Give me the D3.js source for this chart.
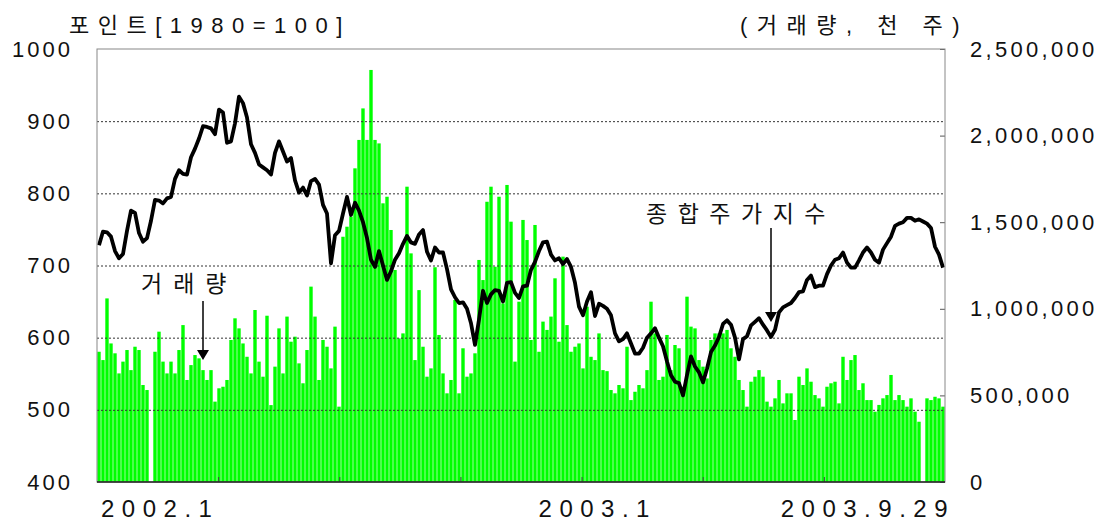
<!DOCTYPE html>
<html>
<head>
<meta charset="utf-8">
<script src="https://cdn.jsdelivr.net/npm/d3@7"></script>
<style>
body { margin: 0; background: #fff; }
text { font-family: "Liberation Sans", "Noto Sans CJK KR", sans-serif; fill: #111; }
</style>
</head>
<body>
<div id="chart"></div>
<script>
// 종합주가지수 (포인트, 1980=100), 2002.1 ~ 2003.9.29
var kospi = [
  728,747,746,740,720,710,716,748,776,773, 745,733,738,762,791,790,786,793,795,820,
  832,827,826,850,862,876,893,892,890,882, 916,912,870,872,897,934,925,905,868,856,
  840,836,
  832,826,856,872,858,844,849,818,801,808, 797,817,820,812,784,772,703,742,748,772,
  795,770,787,776,760,738,708,698,720,700, 680,692,708,717,730,741,732,730,743,749,
  719,707,725,
  718,718,695,667,656,648,649,640,620,590, 625,665,648,660,666,665,650,676,677,662,
  655,671,672,694,705,720,732,733,715,707, 710,702,709,698,676,643,631,650,663,630,
  647,644,640,
  631,606,595,598,606,592,578,578,586,600, 606,613,600,588,567,548,539,537,520,548,
  574,560,552,538,557,580,589,601,619,624, 618,600,570,598,602,617,622,627,618,610,
  601,611,
  635,642,645,648,655,663,664,680,686,670, 672,672,688,700,708,710,718,704,697,697,
  707,718,725,718,708,704,722,731,740,755, 758,760,766,766,762,764,761,758,752,726,
  715,697
];

// 거래량 (단위: 천 주 x 1000)
var volume = [
  752,704,1060,800,743,627,695,762,646,781, 762,560,531,0,752,868,695,627,695,627,
  762,906,589,675,733,714,646,589,646,464, 541,550,589,820,945,887,800,723,627,993,
  695,608,
  960,444,666,887,627,955,810,839,685,570, 762,1128,955,589,820,781,656,897,435,1416,
  1474,1532,1811,1975,2157,1975,2379,1975,1955,1609, 1647,1455,1224,829,858,1705,1320,704,1108,781,
  608,656,1240,
  849,627,512,589,1051,512,772,608,627,743, 1282,1166,1618,1705,1243,1647,1031,1715,1503,695,
  1041,1513,1397,820,1484,752,926,878,955,1176, 810,1301,906,752,781,800,656,1012,723,704,
  858,646,640,
  531,512,560,541,781,473,521,560,541,646, 1041,858,589,608,849,646,791,772,550,1070,
  897,887,704,666,598,820,858,858,858,878, 772,723,589,531,435,579,608,646,608,464,
  435,483,
  589,454,512,512,358,608,560,656,579,502, 483,435,550,570,579,454,723,589,704,733,
  531,570,473,473,406,445,483,502,618,473, 502,473,435,483,406,348,0,483,473,492,
  483,435
];

var leftTicks = [400, 500, 600, 700, 800, 900, 1000];
var rightTicks = [0, 500, 1000, 1500, 2000, 2500];
var quarters = 7;
var dateLabels = ["2002.1", "2003.1", "2003.9.29"];

var W = 1117, H = 525;
var margin = {top: 49, right: 172, bottom: 43, left: 97};
var width = W - margin.left - margin.right;
var height = H - margin.top - margin.bottom;

var root = d3.select("#chart").append("svg").attr("width", W).attr("height", H);
var svg = root.append("g").attr("transform", "translate(" + margin.left + "," + margin.top + ")");

var x = d3.scaleBand().domain(d3.range(kospi.length)).range([0, width]).paddingInner(0.15).paddingOuter(0.075);
var yL = d3.scaleLinear().domain([400, 1000]).range([height, 0]);
var yR = d3.scaleLinear().domain([0, 2500]).range([height, 0]);
var xq = d3.scaleLinear().domain([0, quarters]).range([0, width]);

// volume bars
svg.selectAll(".bar").data(volume).enter().append("rect")
  .attr("class", "bar")
  .attr("x", function(d, i) { return x(i); })
  .attr("width", x.bandwidth())
  .attr("y", function(d) { return yR(d); })
  .attr("height", function(d) { return height - yR(d); })
  .attr("fill", "#00ff00");

// left axis + dotted grid
var gl = svg.append("g").call(d3.axisLeft(yL).tickValues(leftTicks).tickSize(-width).tickPadding(24).tickFormat(d3.format("d")));
gl.select(".domain").remove();
gl.selectAll(".tick line")
  .attr("stroke", "#333").attr("stroke-dasharray", "2,2")
  .attr("opacity", function(d) { return (d == 400 || d == 1000) ? 0 : 1; });
gl.selectAll(".tick text").style("font-size", "22px").style("letter-spacing", "3px")
  .style("font-family", null).attr("fill", "#111");

// right axis
var gr = svg.append("g").attr("transform", "translate(" + width + ",0)")
  .call(d3.axisRight(yR).tickValues(rightTicks).tickSize(-5).tickPadding(25)
    .tickFormat(function(d) { return d3.format(",")(d * 1000); }));
gr.select(".domain").remove();
gr.selectAll(".tick line").attr("stroke", "#555");
gr.selectAll(".tick text").style("font-size", "22px").style("letter-spacing", "3.3px").attr("fill", "#111");

// bottom quarter ticks
var gb = svg.append("g").attr("transform", "translate(0," + height + ")")
  .call(d3.axisBottom(xq).tickValues(d3.range(1, quarters)).tickSize(-5).tickFormat(""));
gb.select(".domain").remove();
gb.selectAll(".tick line").attr("stroke", "#444");

// index line
var line = d3.line()
  .x(function(d, i) { return x(i) + x.bandwidth() / 2; })
  .y(function(d) { return yL(d); });
svg.append("path").datum(kospi)
  .attr("d", line).attr("fill", "none").attr("stroke", "#000")
  .attr("stroke-width", 3.8).attr("stroke-linejoin", "round");

// frame
svg.append("rect").attr("width", width).attr("height", height)
  .attr("fill", "none").attr("stroke", "#888").attr("stroke-width", 1);
svg.append("line").attr("x1", 0).attr("x2", width).attr("y1", height).attr("y2", height)
  .attr("stroke", "#222").attr("stroke-width", 1.5);

// date labels
var dl = svg.append("g").style("font-size", "24px").style("letter-spacing", "7.5px");
dl.append("text").attr("x", xq(0) + 4).attr("y", height + 35).text(dateLabels[0]);
dl.append("text").attr("x", xq(4) - 43).attr("y", height + 35).text(dateLabels[1]);
dl.append("text").attr("x", xq(quarters) + 10).attr("y", height + 35).attr("text-anchor", "end").text(dateLabels[2]);

// titles
root.append("text").attr("x", 69).attr("y", 33).style("font-size", "22px").style("letter-spacing", "8.5px").text("포인트[1980=100]");
root.append("text").attr("x", 740).attr("y", 33).style("font-size", "22px").style("letter-spacing", "9.5px").text("(거래량, 천 주)");

// annotations
function arrow(cx, y0, tip) {
  svg.append("line").attr("x1", cx).attr("x2", cx).attr("y1", y0).attr("y2", tip - 8)
    .attr("stroke", "#000").attr("stroke-width", 1.5);
  svg.append("path")
    .attr("d", "M" + (cx - 6) + "," + (tip - 10) + "L" + (cx + 6) + "," + (tip - 10) + "L" + cx + "," + tip + "Z")
    .attr("fill", "#000");
}
var vi = 26, ki = 168;
svg.append("text").attr("x", 141 - margin.left).attr("y", 292 - margin.top)
  .style("font-size", "23px").style("letter-spacing", "11px").text("거래량");
arrow(x(vi) + x.bandwidth() / 2, 301 - margin.top, yR(volume[vi]) - 10);
svg.append("text").attr("x", 646 - margin.left).attr("y", 222 - margin.top)
  .style("font-size", "23px").style("letter-spacing", "10.5px").text("종합주가지수");
arrow(x(ki) + x.bandwidth() / 2, 228 - margin.top, yL(kospi[ki]) - 15);
</script>
</body>
</html>
